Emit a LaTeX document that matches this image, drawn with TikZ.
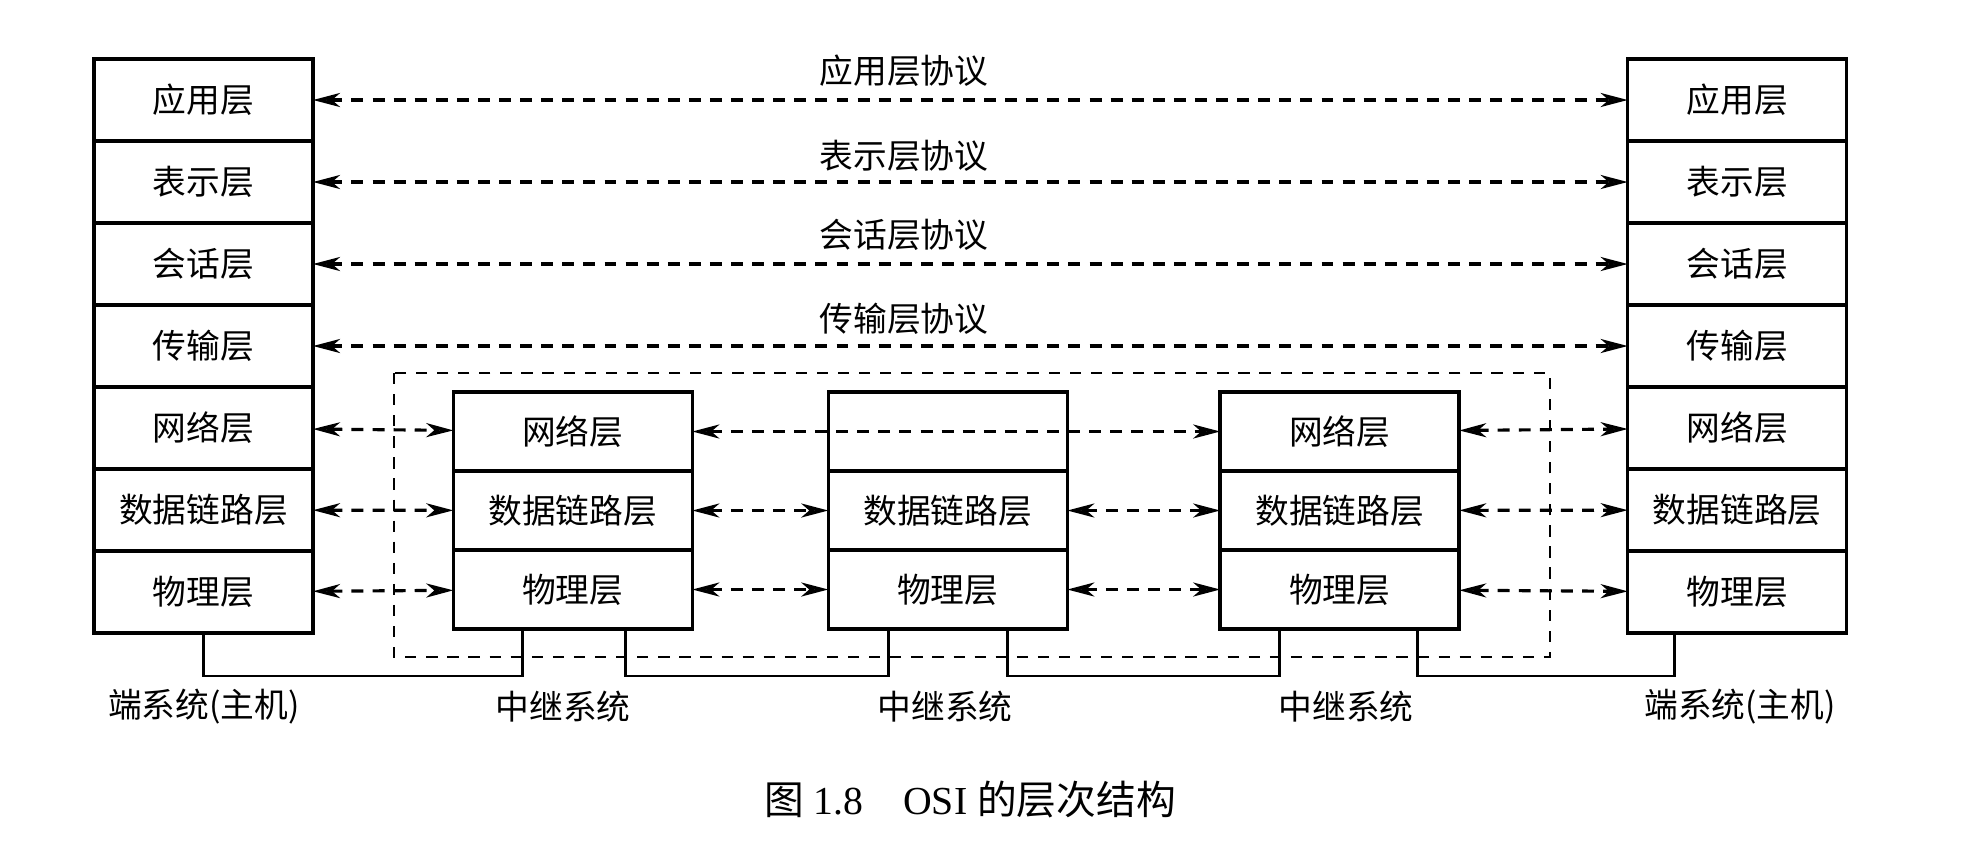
\documentclass[tikz,border=0pt]{standalone}
\usepackage{fontspec}
\setmainfont{Liberation Serif}
\newfontfamily\cjk{Noto Sans CJK SC}
\usetikzlibrary{arrows.meta,positioning}

\tikzset{
  layer/.style={draw, line width=1pt, minimum width=2.19cm, minimum height=0.82cm,
    inner sep=0pt, outer sep=0pt, font=\cjk\fontsize{9.6}{12}\selectfont},
  relay/.style={layer, minimum width=2.39cm, minimum height=0.79cm},
  peertip/.tip={Stealth[length=2.7mm, width=1.4mm, inset=0.8mm, fill=black!65]},
  peer/.style={line width=0.9pt, dash pattern=on 3.4pt off 2.6pt, peertip-peertip},
  link/.style={line width=0.75pt},
  tag/.style={inner sep=0pt, font=\cjk\fontsize{9.6}{12}\selectfont},
}

\begin{document}
\begin{tikzpicture}
            \useasboundingbox (0,0) rectangle (19.63,-8.65);

            % draw left end system
            \node[layer] (Lapp) at (2.035,-1.00) {应用层};
            \node[layer, below=0pt of Lapp] (Lpre) {表示层};
            \node[layer, below=0pt of Lpre] (Lses) {会话层};
            \node[layer, below=0pt of Lses] (Ltra) {传输层};
            \node[layer, below=0pt of Ltra] (Lnet) {网络层};
            \node[layer, below=0pt of Lnet] (Ldat) {数据链路层};
            \node[layer, below=0pt of Ldat] (Lphy) {物理层};

            % draw right end system
            \node[layer] (Rapp) at (17.372,-1.00) {应用层};
            \node[layer, below=0pt of Rapp] (Rpre) {表示层};
            \node[layer, below=0pt of Rpre] (Rses) {会话层};
            \node[layer, below=0pt of Rses] (Rtra) {传输层};
            \node[layer, below=0pt of Rtra] (Rnet) {网络层};
            \node[layer, below=0pt of Rnet] (Rdat) {数据链路层};
            \node[layer, below=0pt of Rdat] (Rphy) {物理层};

            % draw relay systems
            \node[relay] (Anet) at (5.728,-4.315) {网络层};
            \node[relay, below=0pt of Anet] (Adat) {数据链路层};
            \node[relay, below=0pt of Adat] (Aphy) {物理层};
            \node[relay] (Bnet) at (9.478,-4.315) {};
            \node[relay, below=0pt of Bnet] (Bdat) {数据链路层};
            \node[relay, below=0pt of Bdat] (Bphy) {物理层};
            \node[relay] (Cnet) at (13.397,-4.315) {网络层};
            \node[relay, below=0pt of Cnet] (Cdat) {数据链路层};
            \node[relay, below=0pt of Cdat] (Cphy) {物理层};

            % draw dashed frame round the subnet
            \draw[line width=0.65pt, dash pattern=on 3.2pt off 2.8pt] (3.94,-3.73) rectangle (15.50,-6.57);

            % draw peer protocols
            \draw[peer] (Lapp) -- (Rapp);
            \draw[peer] (Lpre) -- (Rpre);
            \draw[peer] (Lses) -- (Rses);
            \draw[peer] (Ltra) -- (Rtra);
            \node[tag] (papp) at (9.04,-0.71) {应用层协议};
            \node[tag] (ppre) at (9.04,-1.56) {表示层协议};
            \node[tag] (pses) at (9.04,-2.35) {会话层协议};
            \node[tag] (ptra) at (9.04,-3.19) {传输层协议};

            \draw[peer] (Lnet) -- (Anet);
            \draw[peer] (Anet) -- (Cnet);
            \draw[peer] (Cnet) -- (Rnet);
            \draw[peer] (Ldat) -- (Adat);
            \draw[peer] (Adat) -- (Bdat);
            \draw[peer] (Bdat) -- (Cdat);
            \draw[peer] (Cdat) -- (Rdat);
            \draw[peer] (Lphy) -- (Aphy);
            \draw[peer] (Aphy) -- (Bphy);
            \draw[peer] (Bphy) -- (Cphy);
            \draw[peer] (Cphy) -- (Rphy);

            % draw physical links
            \draw[link] (Lphy.south) -- ++(0,-0.43) -| ([xshift=-0.50cm]Aphy.south);
            \draw[link] ([xshift=0.53cm]Aphy.south) -- ++(0,-0.47) -| ([xshift=-0.59cm]Bphy.south);
            \draw[link] ([xshift=0.60cm]Bphy.south) -- ++(0,-0.47) -| ([xshift=-0.60cm]Cphy.south);
            \draw[link] ([xshift=0.78cm]Cphy.south) -- ++(0,-0.47) -| ([xshift=-0.63cm]Rphy.south);

            % draw system names
            \node[tag] (nL) at (2.04,-7.07) {端系统(主机)};
            \node[tag] (nA) at (5.63,-7.07) {中继系统};
            \node[tag] (nB) at (9.45,-7.07) {中继系统};
            \node[tag] (nC) at (13.46,-7.07) {中继系统};
            \node[tag] (nR) at (17.40,-7.07) {端系统(主机)};

            % draw caption
            \node[inner sep=0pt, font=\fontsize{11.3}{13}\selectfont] (cap) at (9.70,-7.99)
                {{\cjk 图} 1.8\quad OSI {\cjk 的层次结构}};
        \end{tikzpicture}
\end{document}
